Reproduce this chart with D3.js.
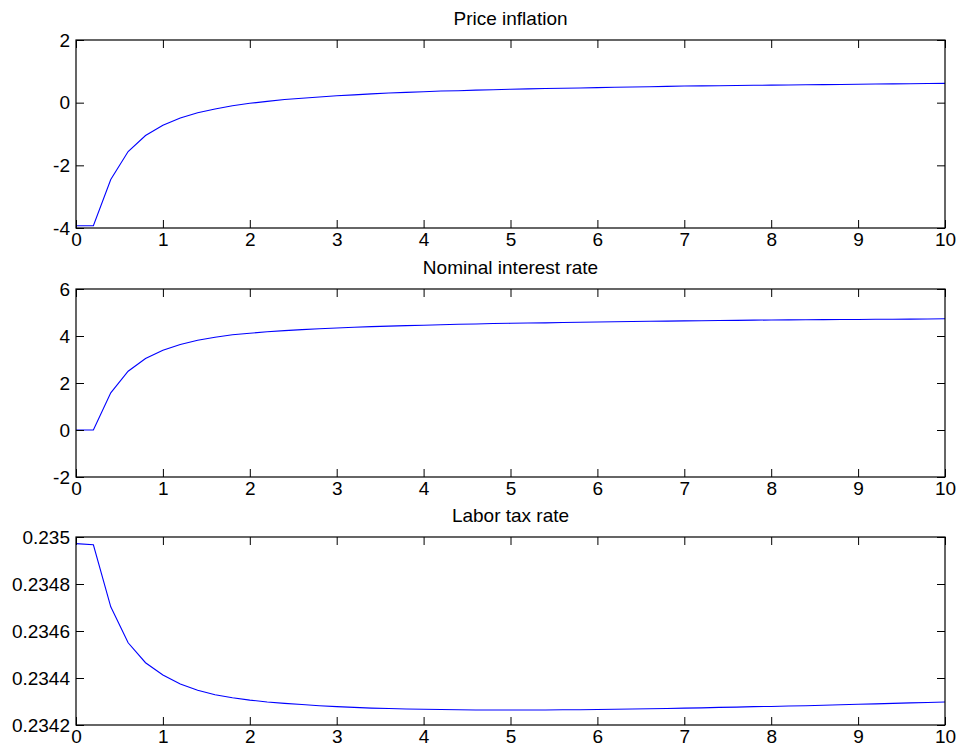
<!DOCTYPE html>
<html>
<head>
<meta charset="utf-8">
<script src="https://cdn.jsdelivr.net/npm/d3@7"></script>
<style>
  html, body { margin: 0; padding: 0; background: #fff; }
  svg { display: block; }
  text { font-family: "Liberation Sans", Arial, Helvetica, sans-serif; fill: #000; }
</style>
</head>
<body>
<svg id="chart" width="959" height="750"></svg>
<script>
// ---- data ----
const time = [0,0.2,0.4,0.6,0.8,1.0,1.2,1.4,1.6,1.8,2.0,2.2,2.4,2.6,2.8,3.0,3.2,3.4,3.6,3.8,4.0,4.2,4.4,4.6,4.8,5.0,
  5.2,5.4,5.6,5.8,6.0,6.2,6.4,6.6,6.8,7.0,7.2,7.4,7.6,7.8,8.0,8.2,8.4,8.6,8.8,9.0,9.2,9.4,9.6,9.8,10.0];

const priceInflation = [-3.93,-3.93,-2.45,-1.56,-1.05,-0.72,-0.49,-0.32,-0.20,-0.10,-0.02,0.04,0.10,0.14,0.18,0.22,0.25,0.28,0.31,0.33,0.35,0.37,0.38,0.40,0.41,0.43,
  0.44,0.45,0.46,0.47,0.48,0.49,0.50,0.51,0.52,0.53,0.535,0.54,0.55,0.555,0.56,0.565,0.57,0.575,0.58,0.59,0.595,0.60,0.605,0.61,0.615];

const nominalRate = [0,0,1.58,2.50,3.04,3.39,3.64,3.82,3.95,4.05,4.12,4.18,4.23,4.27,4.31,4.34,4.37,4.40,4.42,4.44,4.46,4.48,4.50,4.51,4.53,4.54,
  4.55,4.56,4.575,4.585,4.595,4.605,4.615,4.625,4.635,4.645,4.65,4.66,4.665,4.675,4.68,4.685,4.69,4.695,4.70,4.705,4.71,4.715,4.72,4.725,4.735];

const laborTax = [0.234972,0.234967,0.234703,0.234550,0.234465,0.234413,0.234374,0.234348,0.234329,0.234316,0.234306,0.234298,0.234292,0.234287,0.234282,0.234278,0.234275,0.234272,0.234270,0.234268,0.234267,0.234266,0.234265,0.234264,0.234264,0.234264,
  0.234264,0.234264,0.234265,0.234265,0.234266,0.234267,0.234268,0.234269,0.234270,0.234272,0.234273,0.234275,0.234276,0.234278,0.234279,0.234281,0.234282,0.234284,0.234286,0.234288,0.234290,0.234292,0.234294,0.234296,0.234298];

const titles = ["Price inflation", "Nominal interest rate", "Labor tax rate"];
const xTicks = [0,1,2,3,4,5,6,7,8,9,10];
const xTickLabels = ["0","1","2","3","4","5","6","7","8","9","10"];
const yTicks1 = [-4,-2,0,2];
const yTickLabels1 = ["-4","-2","0","2"];
const yTicks2 = [-2,0,2,4,6];
const yTickLabels2 = ["-2","0","2","4","6"];
const yTicks3 = [0.2342,0.2344,0.2346,0.2348,0.235];
const yTickLabels3 = ["0.2342","0.2344","0.2346","0.2348","0.235"];

// ---- layout ----
const svg = d3.select("#chart");
const left = 76, right = 945;
const panels = [
  {top: 40,  bottom: 228, domain: [-4, 2], values: priceInflation, ticks: yTicks1, labels: yTickLabels1, title: titles[0]},
  {top: 289, bottom: 477, domain: [-2, 6], values: nominalRate,    ticks: yTicks2, labels: yTickLabels2, title: titles[1]},
  {top: 537, bottom: 725, domain: [0.2342, 0.235], values: laborTax, ticks: yTicks3, labels: yTickLabels3, title: titles[2]}
];
const fontSize = 19;
const tickLen = 8;

const x = d3.scaleLinear().domain([0, 10]).range([left, right]);

panels.forEach(p => {
  const y = d3.scaleLinear().domain(p.domain).range([p.bottom, p.top]);
  const g = svg.append("g");

  // line
  const line = d3.line().x((d, i) => x(time[i])).y(d => y(d));
  g.append("path").datum(p.values)
    .attr("fill", "none").attr("stroke", "#0000ff").attr("stroke-width", 1.1)
    .attr("d", line);

  const styleAxis = (sel) => {
    sel.select(".domain").remove();
    sel.selectAll(".tick line").attr("stroke", "#000").attr("stroke-width", 1);
    sel.selectAll(".tick text").attr("font-size", fontSize)
      .attr("font-family", '"Liberation Sans", Arial, Helvetica, sans-serif').attr("fill", "#000");
  };

  // bottom axis (labels)
  g.append("g").attr("transform", `translate(0,${p.bottom})`)
    .call(d3.axisBottom(x).tickValues(xTicks).tickFormat((d, i) => xTickLabels[i]).tickSizeInner(-tickLen).tickSizeOuter(0).tickPadding(5))
    .call(styleAxis);
  // top axis (ticks only)
  g.append("g").attr("transform", `translate(0,${p.top})`)
    .call(d3.axisTop(x).tickValues(xTicks).tickFormat("").tickSizeInner(-tickLen).tickSizeOuter(0))
    .call(styleAxis);
  // left axis (labels)
  g.append("g").attr("transform", `translate(${left},0)`)
    .call(d3.axisLeft(y).tickValues(p.ticks).tickFormat((d, i) => p.labels[i]).tickSizeInner(-tickLen).tickSizeOuter(0).tickPadding(6))
    .call(styleAxis);
  // right axis (ticks only)
  g.append("g").attr("transform", `translate(${right},0)`)
    .call(d3.axisRight(y).tickValues(p.ticks).tickFormat("").tickSizeInner(-tickLen).tickSizeOuter(0))
    .call(styleAxis);

  // frame
  g.append("rect").attr("x", left).attr("y", p.top)
    .attr("width", right - left).attr("height", p.bottom - p.top)
    .attr("fill", "none").attr("stroke", "#000").attr("stroke-width", 1.2);

  // title
  g.append("text").attr("x", (left + right) / 2).attr("y", p.top - 15)
    .attr("text-anchor", "middle").attr("font-size", fontSize).text(p.title);
});
</script>
</body>
</html>
